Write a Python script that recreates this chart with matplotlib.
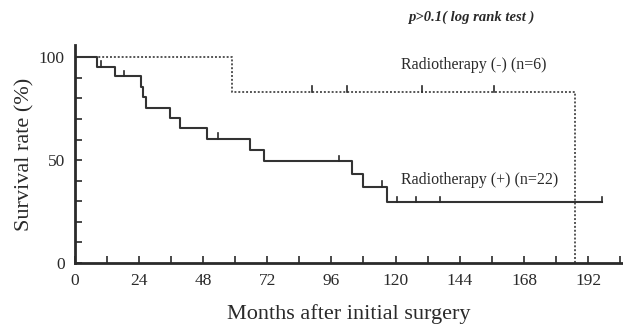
import numpy as np
import matplotlib
matplotlib.use("Agg")
from matplotlib import pyplot as plt
from matplotlib.ticker import MultipleLocator

# Radiotherapy (+), n=22 : step times (months) and survival (%) after each step
pos_t = [0, 8.5, 15.1, 24.7, 25.7, 26.7, 35.7, 39.4, 49.4, 65.6, 70.8, 103.6, 107.7, 116.7]
pos_s = [100, 95.5, 90.7, 85.6, 80.6, 75.6, 70.5, 65.5, 60.5, 55.0, 49.5, 43.3, 37.1, 29.7]
pos_end = 197
pos_cens = [9.8, 18.5, 53.8, 98.9, 114.8, 120.7, 127.6, 136.6, 197]

# Radiotherapy (-), n=6
neg_t = [0, 58.8, 187]
neg_s = [100, 83.3, 0]
neg_cens = [88.9, 101.8, 130, 156.9]

ink = "#2a2a2a"
plt.rcParams['font.family'] = ['Liberation Serif', 'DejaVu Serif']

fig = plt.figure(figsize=(6.23, 3.33), dpi=100)
ax = fig.add_axes([0.1196, 0.21, 0.8804, 0.655])


def step_xy(t, s, end):
    xs = t + [end]
    ys = s + [s[-1]]
    return xs, ys


def level_at(t, s, x):
    i = np.searchsorted(t, x, side="right") - 1
    return s[i]


# dotted curve
xs, ys = step_xy(neg_t, neg_s, neg_t[-1])
ax.step(xs, ys, where="post", color="#555555", lw=1.4, ls=(0, (1, 1)))
for c in neg_cens:
    y = level_at(neg_t, neg_s, c)
    ax.plot([c, c], [y, y + 2.6], color=ink, lw=1.2)

# solid curve
xs, ys = step_xy(pos_t, pos_s, pos_end)
ax.step(xs, ys, where="post", color="#333333", lw=1.5)
for c in pos_cens:
    y = level_at(pos_t, pos_s, c)
    ax.plot([c, c], [y, y + 2.6], color=ink, lw=1.2)

ax.set_xlim(0, 205)
ax.set_ylim(0, 106)
for sp in ["top", "right"]:
    ax.spines[sp].set_visible(False)
for sp in ["left", "bottom"]:
    ax.spines[sp].set_linewidth(2.0)
    ax.spines[sp].set_color(ink)

ax.xaxis.set_major_locator(MultipleLocator(24))
ax.xaxis.set_minor_locator(MultipleLocator(12))
ax.set_yticks([0, 50, 100])
ax.yaxis.set_minor_locator(MultipleLocator(10))
ax.tick_params(which="both", direction="in", color=ink, width=1.2, labelsize=12.5,
               labelcolor=ink)
ax.tick_params(which="major", length=5, pad=7)
ax.tick_params(which="minor", length=5)
ax.set_xticks(np.arange(0, 193, 24))

ax.set_xlabel("Months after initial surgery", fontsize=16, color=ink, labelpad=11)
ax.set_ylabel("Survival rate (%)", fontsize=16, color=ink, labelpad=3)

ax.text(122, 96.5, "Radiotherapy (-) (n=6)", fontsize=11.5, color=ink, va="center")
ax.text(122, 40.5, "Radiotherapy (+) (n=22)", fontsize=11.5, color=ink, va="center")
fig.text(0.655, 0.948, "p>0.1( log rank test )", fontsize=10.5, style="italic",
         weight="bold", color=ink, va="center")

fig.savefig("out.png", dpi=100)
